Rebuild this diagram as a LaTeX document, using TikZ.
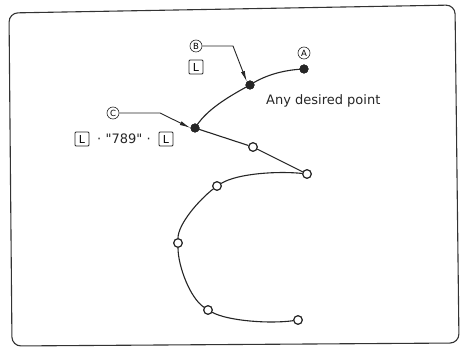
\documentclass[tikz,border=0pt]{standalone}
\usepackage{fontspec}
\setmainfont{DejaVu Sans}
\newfontfamily\plainfont{DejaVu Sans}
\usetikzlibrary{arrows.meta}
\tikzset{
  curve/.style={line width=1.1pt, draw=black!85},
  fdot/.style={circle, fill=black!85, draw=black!85, inner sep=0pt, minimum size=8.5pt},
  odot/.style={circle, fill=white, draw=black!85, line width=1.1pt, inner sep=0pt, minimum size=8.5pt},
  cletter/.style={circle, draw=black!85, line width=0.6pt, inner sep=0pt, minimum size=12pt, font=\plainfont\fontsize{8.5}{8.5}\selectfont},
  keybox/.style={rectangle, rounded corners=1pt, draw=black!85, line width=0.8pt, inner sep=0pt, minimum size=14pt, font=\plainfont\fontsize{11}{11}\selectfont},
  lbl/.style={inner sep=0pt, font=\plainfont\fontsize{13}{13}\selectfont, text=black!85},
  leader/.style={line width=0.9pt, draw=black!85, -{Latex[length=11pt,width=4pt]}},
}
\begin{document}
\begin{tikzpicture}[x=1pt,y=-1pt]
\useasboundingbox (0,0) rectangle (461,347);
\fill[white] (0,0) rectangle (461,347);
% frame
\draw[line width=1.1pt, draw=black!80, rounded corners=9pt]
  (9,13) -- (455,5) -- (459,343) -- (12,346) -- cycle;
% points
\node[fdot] (A) at (304,69) {};
\node[fdot] (B) at (250,85) {};
\node[fdot] (C) at (195,128) {};
\node[odot] (p1) at (253,147) {};
\node[odot] (p2) at (307,174) {};
\node[odot] (p3) at (217,186) {};
\node[odot] (p4) at (178,243) {};
\node[odot] (p5) at (208,310) {};
\node[odot] (p6) at (298,320) {};
% curve
\draw[curve] (A.center) .. controls (280,70) and (262,77) .. (B.center);
\draw[curve] (B.center) .. controls (222,100) and (205,112) .. (C.center);
\draw[curve] (C.center) -- (p1);
\draw[curve] (p1) -- (p2);
\draw[curve] (p2) .. controls (280,171) and (238,173) .. (p3);
\draw[curve] (p3) .. controls (199,200) and (178,224) .. (p4);
\draw[curve] (p4) .. controls (178,266) and (190,298) .. (p5);
\draw[curve] (p5) .. controls (228,321) and (270,324) .. (p6);
% redraw dots on top
\node[fdot] at (A) {};
\node[fdot] at (B) {};
\node[fdot] at (C) {};
\foreach \p in {p1,p2,p3,p4,p5,p6} \node[odot] at (\p) {};
% labels
\node[cletter] (la) at (304,53) {A};
\node[cletter] (lb) at (196,46) {B};
\node[keybox] (kb) at (196,67) {L};
\coordinate (bk) at (233,46);
\draw[leader] (lb.east) -- (bk) -- (B.north west);
\node[cletter] (lc) at (113,113) {C};
\coordinate (ck) at (160,113);
\draw[leader] (lc.east) -- (ck) -- (C.west);
\node[keybox] (kc1) at (82,139) {L};
\node[lbl] (t789) at (124,139) {·\,\,"789"\,\,·};
\node[keybox] (kc2) at (166,139) {L};
\node[lbl, anchor=west] (any) at (266,101) {Any desired point};
\end{tikzpicture}
\end{document}
